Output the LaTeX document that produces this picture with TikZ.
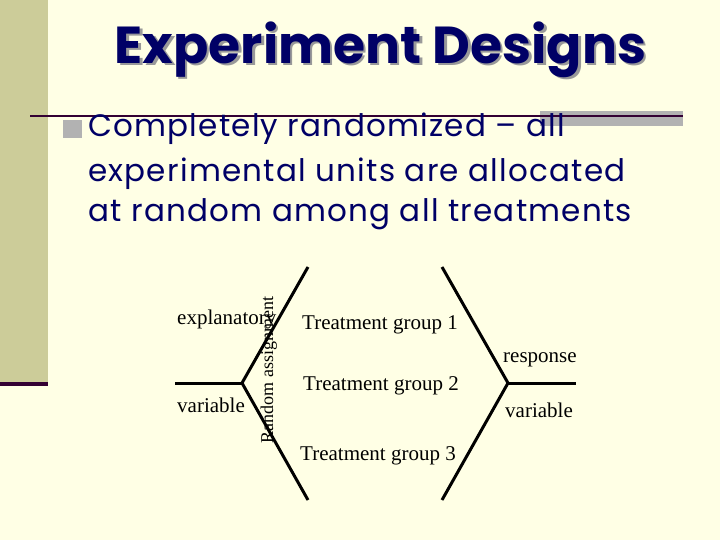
\documentclass[tikz,border=0pt]{standalone}
\usepackage{fontspec}
\setmainfont{Liberation Serif}
\newfontfamily\slidefont[LetterSpace=4]{Poppins}
\newfontfamily\headfont{Poppins}
\usepackage{xcolor}
\definecolor{slidebg}{RGB}{255,255,229}
\definecolor{sidebar}{RGB}{204,204,153}
\definecolor{rulecol}{RGB}{51,0,51}
\definecolor{navy}{RGB}{0,0,102}
\definecolor{barcol}{RGB}{178,178,178}
\definecolor{shadowcol}{RGB}{153,153,153}

\begin{document}
\begin{tikzpicture}[x=1pt,y=-1pt]
\tikzset{
  title text/.style={font=\headfont\bfseries\fontsize{52}{56}\selectfont, text=navy, inner sep=0pt, anchor=base},
  body text/.style={font=\slidefont\fontsize{31}{43}\selectfont, text=navy, inner sep=0pt, anchor=base west},
  label text/.style={font=\fontsize{21}{25}\selectfont, inner sep=0pt, anchor=base west},
  branch/.style={line width=3pt}
}
\useasboundingbox[fill=slidebg] (0,0) rectangle (720,540);
\fill[sidebar] (0,0) rectangle (48,382);
\fill[rulecol] (0,382) rectangle (48,386);
\fill[barcol] (540,111) rectangle (683,126);
\draw[rulecol, line width=2.5pt] (30,116) -- (683,116);
\fill[barcol] (63,120) rectangle (82,138);

\node[title text, text=shadowcol] (titleshadow) at (383,66) {Experiment Designs};
\node[title text] (title) at (380.5,63.5) {Experiment Designs};

\node[body text] (line1) at (88,137) {Completely randomized – all};
\node[body text] (line2) at (88,182) {experimental units are allocated};
\node[body text] (line3) at (88,222) {at random among all treatments};

\coordinate (varin) at (175,383);
\coordinate (split) at (242,383);
\coordinate (splittop) at (308,267);
\coordinate (splitbot) at (308,500);
\coordinate (jointop) at (442,267);
\coordinate (joinbot) at (442,500);
\coordinate (join) at (508,383);
\coordinate (varout) at (576,383);

\draw[branch] (varin) -- (split);
\draw[branch] (splittop) -- (split) -- (splitbot);
\draw[branch] (jointop) -- (join) -- (joinbot);
\draw[branch] (join) -- (varout);

\node[label text] (explvar) at (177,324) {explanatory};
\node[label text] (explvar2) at (177,412) {variable};
\node[label text, font=\fontsize{18}{22}\selectfont, rotate=90, anchor=base] (assign) at (273,370) {Random assignment};
\node[label text] (group1) at (302,329) {Treatment group 1};
\node[label text] (group2) at (303,390) {Treatment group 2};
\node[label text] (group3) at (300,460) {Treatment group 3};
\node[label text] (respvar) at (503,362) {response};
\node[label text] (respvar2) at (505,417) {variable};
\end{tikzpicture}
\end{document}
